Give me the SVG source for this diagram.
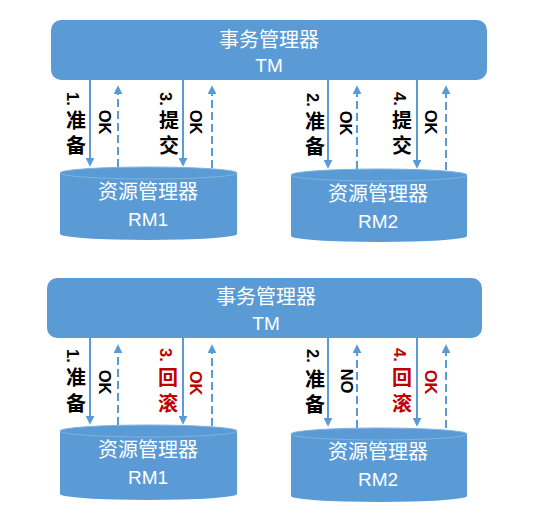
<svg xmlns="http://www.w3.org/2000/svg" width="539" height="531" viewBox="0 0 539 531">
<style>
.box{fill:#5B9BD5}
.cyl{fill:#5B9BD5}
.cyltop{fill:#5B9BD5;stroke:#7FB2E0;stroke-width:1}
.wt{fill:#fff;font-family:"Liberation Sans","Noto Sans CJK SC",sans-serif;font-size:20px;text-anchor:middle;dominant-baseline:central}
.wl{fill:#fff;font-family:"Liberation Sans","Noto Sans CJK SC",sans-serif;font-size:19px;text-anchor:middle;dominant-baseline:central}
.solid{stroke:#5B9BD5;stroke-width:2;fill:none}
.dash{stroke:#5B9BD5;stroke-width:2;fill:none;stroke-dasharray:8 4}
.lb{font-family:"Liberation Sans","Noto Sans CJK SC",sans-serif;font-weight:bold;font-size:20px;dominant-baseline:central}
.pf{font-size:16.5px}
.cj{text-anchor:middle}
.ok{font-family:"Liberation Sans","Noto Sans CJK SC",sans-serif;font-weight:bold;font-size:16.5px;text-anchor:middle;dominant-baseline:central}
.k{fill:#000}
.r{fill:#C00000}
</style>
<defs>
<marker id="ah" viewBox="0 0 10 10" refX="7" refY="5" markerWidth="9" markerHeight="9" markerUnits="userSpaceOnUse" orient="auto">
<path d="M0,0 L10,5 L0,10 z" fill="#5B9BD5"/>
</marker>
</defs>

<!-- Top diagram -->
<g id="tm1">
<rect class="box" x="51" y="20" width="436" height="60" rx="10"/>
<text class="wt" x="269" y="40">事务管理器</text>
<text class="wl" x="269" y="65">TM</text>
</g>
<g id="rm1a">
<path class="cyl" d="M60,173 L60,234 A88.5,6 0 0 0 237,234 L237,173 Z"/>
<ellipse class="cyltop" cx="148.5" cy="173" rx="88.5" ry="6"/>
<text class="wt" x="148" y="192">资源管理器</text>
<text class="wl" x="148" y="219">RM1</text>
</g>
<g id="rm2a">
<path class="cyl" d="M291,175 L291,236 A88,6 0 0 0 467,236 L467,175 Z"/>
<ellipse class="cyltop" cx="379" cy="175" rx="88" ry="6"/>
<text class="wt" x="378" y="194">资源管理器</text>
<text class="wl" x="378" y="221">RM2</text>
</g>
<g id="connectors-top">
<line class="solid" x1="90" y1="80" x2="90" y2="164" marker-end="url(#ah)"/>
<line class="dash" x1="118" y1="167" x2="118" y2="88" marker-end="url(#ah)"/>
<line class="solid" x1="183" y1="80" x2="183" y2="164" marker-end="url(#ah)"/>
<line class="dash" x1="212" y1="168" x2="212" y2="88" marker-end="url(#ah)"/>
<line class="solid" x1="328" y1="80" x2="328" y2="166" marker-end="url(#ah)"/>
<line class="dash" x1="357" y1="169" x2="357" y2="88" marker-end="url(#ah)"/>
<line class="solid" x1="417" y1="80" x2="417" y2="166" marker-end="url(#ah)"/>
<line class="dash" x1="446" y1="170" x2="446" y2="88" marker-end="url(#ah)"/>
</g>
<g id="labels-top">
<text class="lb pf k" x="73" y="92" transform="rotate(90 73 92)">1.</text>
<text class="lb cj k" x="76" y="121">准</text>
<text class="lb cj k" x="76" y="146">备</text>
<text class="ok k" x="105" y="122" transform="rotate(90 105 122)">OK</text>
<text class="lb pf k" x="166" y="92" transform="rotate(90 166 92)">3.</text>
<text class="lb cj k" x="169" y="121">提</text>
<text class="lb cj k" x="169" y="146">交</text>
<text class="ok k" x="196" y="122" transform="rotate(90 196 122)">OK</text>
<text class="lb pf k" x="313" y="93" transform="rotate(90 313 93)">2.</text>
<text class="lb cj k" x="315" y="122">准</text>
<text class="lb cj k" x="315" y="147">备</text>
<text class="ok k" x="346" y="123" transform="rotate(90 346 123)">OK</text>
<text class="lb pf k" x="400" y="92" transform="rotate(90 400 92)">4.</text>
<text class="lb cj k" x="402" y="121">提</text>
<text class="lb cj k" x="402" y="146">交</text>
<text class="ok k" x="431" y="122" transform="rotate(90 431 122)">OK</text>
</g>

<!-- Bottom diagram -->
<g id="tm2">
<rect class="box" x="47" y="278" width="435" height="60" rx="10"/>
<text class="wt" x="266" y="297">事务管理器</text>
<text class="wl" x="266" y="323">TM</text>
</g>
<g id="rm1b">
<path class="cyl" d="M60,431 L60,494 A88.5,6 0 0 0 237,494 L237,431 Z"/>
<ellipse class="cyltop" cx="148.5" cy="431" rx="88.5" ry="6"/>
<text class="wt" x="148" y="450">资源管理器</text>
<text class="wl" x="148" y="477">RM1</text>
</g>
<g id="rm2b">
<path class="cyl" d="M291,434 L291,496 A88,6 0 0 0 467,496 L467,434 Z"/>
<ellipse class="cyltop" cx="379" cy="434" rx="88" ry="6"/>
<text class="wt" x="378" y="452">资源管理器</text>
<text class="wl" x="378" y="479">RM2</text>
</g>
<g id="connectors-bottom">
<line class="solid" x1="90" y1="338" x2="90" y2="422" marker-end="url(#ah)"/>
<line class="dash" x1="118" y1="425" x2="118" y2="347" marker-end="url(#ah)"/>
<line class="solid" x1="183" y1="338" x2="183" y2="422" marker-end="url(#ah)"/>
<line class="dash" x1="212" y1="426" x2="212" y2="347" marker-end="url(#ah)"/>
<line class="solid" x1="328" y1="338" x2="328" y2="424" marker-end="url(#ah)"/>
<line class="dash" x1="357" y1="428" x2="357" y2="347" marker-end="url(#ah)"/>
<line class="solid" x1="417" y1="338" x2="417" y2="424" marker-end="url(#ah)"/>
<line class="dash" x1="446" y1="428" x2="446" y2="347" marker-end="url(#ah)"/>
</g>
<g id="labels-bottom">
<text class="lb pf k" x="73" y="349" transform="rotate(90 73 349)">1.</text>
<text class="lb cj k" x="76" y="378">准</text>
<text class="lb cj k" x="76" y="404">备</text>
<text class="ok k" x="105" y="382" transform="rotate(90 105 382)">OK</text>
<text class="lb pf r" x="166" y="348" transform="rotate(90 166 348)">3.</text>
<text class="lb cj r" x="168" y="378">回</text>
<text class="lb cj r" x="168" y="404">滚</text>
<text class="ok r" x="196" y="383" transform="rotate(90 196 383)">OK</text>
<text class="lb pf k" x="313" y="349" transform="rotate(90 313 349)">2.</text>
<text class="lb cj k" x="315" y="380">准</text>
<text class="lb cj k" x="315" y="405">备</text>
<text class="ok k" x="347" y="381" transform="rotate(90 347 381)">NO</text>
<text class="lb pf r" x="400" y="348" transform="rotate(90 400 348)">4.</text>
<text class="lb cj r" x="402" y="378">回</text>
<text class="lb cj r" x="402" y="404">滚</text>
<text class="ok r" x="431" y="382" transform="rotate(90 431 382)">OK</text>
</g>
</svg>
